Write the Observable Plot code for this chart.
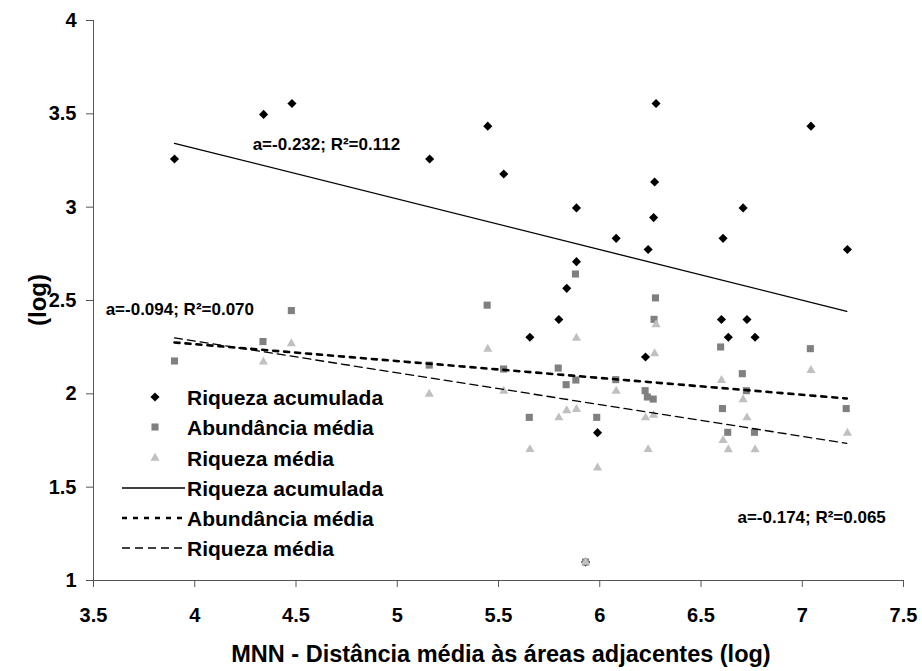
<!DOCTYPE html>
<html>
<head>
<meta charset="utf-8">
<script src="https://cdn.jsdelivr.net/npm/d3@7"></script>
<script src="https://cdn.jsdelivr.net/npm/@observablehq/plot@0.6"></script>
<style>
  html, body { margin: 0; padding: 0; background: #fff; }
  #chart { position: relative; width: 922px; height: 671px; }
  svg { font-family: "Liberation Sans", Arial, sans-serif; }
  svg text { font-weight: 700 !important; }
</style>
</head>
<body>
<div id="chart"></div>
<script>
// ---- Data ----
const xTicks = [3.5, 4, 4.5, 5, 5.5, 6, 6.5, 7, 7.5];
const yTicks = [1, 1.5, 2, 2.5, 3, 3.5, 4];

const riqAcumX = [3.90,4.34,4.48,5.16,5.447,5.526,5.655,5.798,5.837,5.885,5.885,5.93,5.989,6.081,6.226,6.239,6.266,6.271,6.278,6.601,6.609,6.635,6.708,6.727,6.767,7.043,7.223];
const riqAcumY = [3.258,3.497,3.555,3.258,3.434,3.178,2.303,2.398,2.565,2.996,2.708,1.099,1.792,2.833,2.197,2.773,2.944,3.135,3.555,2.398,2.833,2.303,2.996,2.398,2.303,3.434,2.773];

const abundX = [3.90,4.337,4.477,5.158,5.444,5.525,5.652,5.795,5.834,5.88,5.882,5.93,5.985,6.079,6.224,6.235,6.264,6.268,6.275,6.597,6.606,6.632,6.704,6.724,6.764,7.040,7.217];
const abundY = [2.176,2.280,2.446,2.154,2.475,2.133,1.874,2.138,2.049,2.642,2.074,1.099,1.874,2.076,2.017,1.983,1.972,2.399,2.514,2.251,1.921,1.794,2.108,2.017,1.794,2.242,1.921];

const riqMedX = [4.339,4.477,5.158,5.447,5.526,5.655,5.798,5.837,5.885,5.885,5.93,5.989,6.081,6.226,6.239,6.266,6.271,6.278,6.601,6.609,6.635,6.708,6.727,6.767,7.043,7.223];
const riqMedY = [2.171,2.269,1.999,2.240,2.015,1.702,1.872,1.910,2.299,1.917,1.099,1.604,2.015,1.872,1.702,1.886,2.216,2.371,2.072,1.751,1.701,1.969,1.872,1.701,2.126,1.790];

// Trend lines (end points)
const trendX = [3.90, 7.22];
const riqAcumTrend = [3.342, 2.442];
const abundTrend = [2.275, 1.975];
const riqMedTrend = [2.300, 1.735];

// Regression annotations
const annText = ["a=-0.232; R²=0.112", "a=-0.094; R²=0.070", "a=-0.174; R²=0.065"];
const annX = [4.286, 3.56, 6.68];
const annY = [3.338, 2.452, 1.338];

const seriesNames = ["Riqueza acumulada", "Abundância média", "Riqueza média"];
const xTitle = "MNN - Distância média às áreas adjacentes (log)";
const yTitle = "(log)";

// ---- Build tables ----
const pts = (xs, ys) => xs.map((x, i) => ({x, y: ys[i]}));
const riqAcum = pts(riqAcumX, riqAcumY);
const abund = pts(abundX, abundY);
const riqMed = pts(riqMedX, riqMedY);
const tRA = pts(trendX, riqAcumTrend);
const tAB = pts(trendX, abundTrend);
const tRM = pts(trendX, riqMedTrend);
const ann = annText.map((t, i) => ({t, x: annX[i], y: annY[i]}));

const W = 922, H = 671;
const mL = 93, mR = 19, mT = 20, mB = 91;

const chart = Plot.plot({
  width: W, height: H,
  marginLeft: mL, marginRight: mR, marginTop: mT, marginBottom: mB,
  style: {fontFamily: "'Liberation Sans', Arial, sans-serif", fontWeight: "bold", fontSize: "20px", color: "#000", background: "#fff"},
  x: {domain: [3.5, 7.5]},
  y: {domain: [1, 4]},
  marks: [
    Plot.axisX({ticks: xTicks, tickSize: 7, tickPadding: 20, label: null, tickFormat: d => String(d), stroke: "#555", fill: "#000", fontSize: 20, fontWeight: "bold"}),
    Plot.axisY({ticks: yTicks, tickSize: 7, tickPadding: 10, label: null, tickFormat: d => String(d), stroke: "#555", fill: "#000", fontSize: 20, fontWeight: "bold"}),
    Plot.ruleX([3.5], {stroke: "#555"}),
    Plot.ruleY([1], {stroke: "#555"}),
    Plot.dot(riqAcum, {x: "x", y: "y", symbol: "diamond2", r: 4.1, fill: "#000", stroke: "none"}),
    Plot.dot(abund, {x: "x", y: "y", symbol: "square", r: 4.0, fill: "#808080", stroke: "none"}),
    Plot.dot(riqMed, {x: "x", y: "y", symbol: "triangle", r: 3.4, fill: "#c0c0c0", stroke: "none"}),
    Plot.line(tRA, {x: "x", y: "y", stroke: "#000", strokeWidth: 1.3}),
    Plot.line(tAB, {x: "x", y: "y", stroke: "#000", strokeWidth: 2.6, strokeDasharray: "5,6"}),
    Plot.line(tRM, {x: "x", y: "y", stroke: "#000", strokeWidth: 1.3, strokeDasharray: "8,5"}),
    Plot.text(ann, {x: "x", y: "y", text: "t", textAnchor: "start", fontSize: 17, fontWeight: "bold", fill: "#000"})
  ]
});

document.getElementById("chart").appendChild(chart);

// ---- Axis titles and legend (added into the same SVG) ----
const svg = d3.select(chart);
svg.append("text")
  .attr("x", 501).attr("y", 654)
  .attr("text-anchor", "middle").attr("dominant-baseline", "central")
  .attr("font-size", 23.5).attr("font-weight", "bold").attr("fill", "#000")
  .text(xTitle);
svg.append("text")
  .attr("transform", "translate(37,300) rotate(-90)")
  .attr("text-anchor", "middle").attr("dominant-baseline", "central")
  .attr("font-size", 24).attr("font-weight", "bold").attr("fill", "#000")
  .text(yTitle);

const lg = svg.append("g").attr("text-anchor", "start");
const legendY = [397, 427, 458, 488, 518, 548];
const symX = 155, lineX0 = 122, lineX1 = 185, textX = 187;
const sym = [d3.symbolDiamond2, d3.symbolSquare, d3.symbolTriangle];
const symSize = [Math.PI*4.1*4.1, Math.PI*4*4, Math.PI*3.4*3.4];
const symFill = ["#000", "#808080", "#c0c0c0"];
const dash = [null, "5,6", "8,5"];
const dashW = [1.3, 2.6, 1.3];
seriesNames.forEach((name, i) => {
  lg.append("path")
    .attr("d", d3.symbol(sym[i], symSize[i])())
    .attr("transform", `translate(${symX},${legendY[i]})`)
    .attr("fill", symFill[i]);
  lg.append("text").attr("x", textX).attr("y", legendY[i])
    .attr("text-anchor", "start")
    .attr("dominant-baseline", "central").attr("font-size", 21).attr("font-weight", "bold").attr("fill", "#000")
    .text(name);
});
seriesNames.forEach((name, i) => {
  const y = legendY[i + 3];
  lg.append("line").attr("x1", lineX0).attr("x2", lineX1).attr("y1", y).attr("y2", y)
    .attr("stroke", "#000").attr("stroke-width", dashW[i])
    .attr("stroke-dasharray", dash[i]);
  lg.append("text").attr("x", textX).attr("y", y)
    .attr("text-anchor", "start")
    .attr("dominant-baseline", "central").attr("font-size", 21).attr("font-weight", "bold").attr("fill", "#000")
    .text(name);
});
</script>
</body>
</html>
